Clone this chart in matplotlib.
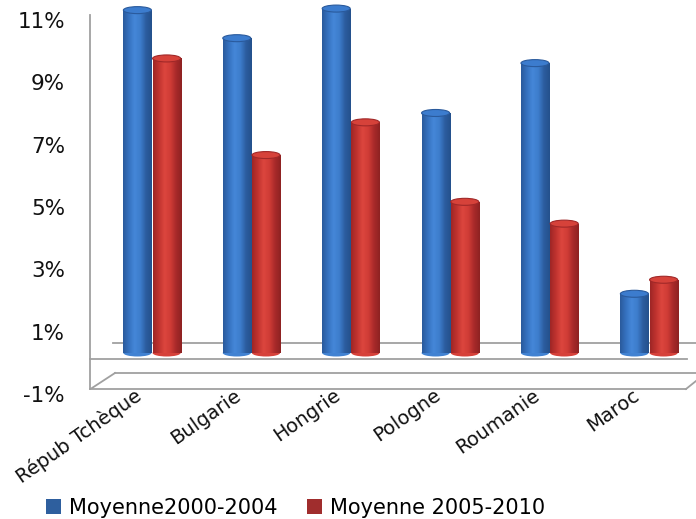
import numpy as np
import matplotlib
matplotlib.use("Agg")
import matplotlib.pyplot as plt
from matplotlib.patches import Ellipse, Patch
from matplotlib.lines import Line2D
from matplotlib.colors import LinearSegmentedColormap

categories = ["Répub Tchèque", "Bulgarie", "Hongrie", "Pologne", "Roumanie", "Maroc"]
series_names = ["Moyenne2000-2004", "Moyenne 2005-2010"]
s1 = [11.0, 10.1, 11.05, 7.7, 9.3, 1.9]
s2 = [9.45, 6.35, 7.4, 4.85, 4.15, 2.35]
yticks = [-1, 1, 3, 5, 7, 9, 11]
ytick_labels = ["-1%", "1%", "3%", "5%", "7%", "9%", "11%"]

W, H = 696, 519
fig = plt.figure(figsize=(W / 100, H / 100), dpi=100)
fig.patch.set_facecolor("white")
plt.rcParams['font.family'] = ['DejaVu Sans']


def fx(x):
    return x / W


def fy(y):
    return 1 - y / H


# main axis (ticks)
ax = fig.add_axes([fx(90), fy(394), fx(600), (394 - 20) / H])
ax.set_ylim(-1, 11)
ax.set_xlim(0, 1)
ax.set_facecolor("none")
for s in ax.spines.values():
    s.set_visible(False)
ax.set_xticks([])
ax.set_yticks(yticks)
ax.set_yticklabels(ytick_labels, fontsize=15.5, color="#111111")
ax.tick_params(axis="y", length=0, pad=18)

# decorative frame / floor lines (pixel coordinates)
gc = "#a0a0a0"
frame = [
    [(90, 15), (90, 389)],
    [(113, 343), (696, 343)],
    [(90, 359), (687, 359)],
    [(115, 373), (696, 373)],
    [(92, 388), (115, 373)],
    [(90, 389), (686, 389)],
    [(686, 389), (696, 381)],
]
for seg in frame:
    xs = [fx(p[0]) for p in seg]
    ys = [fy(p[1]) for p in seg]
    fig.add_artist(Line2D(xs, ys, color=gc, lw=1.3, zorder=-1))

# bar axes (front plane, shifted)
px_per_unit = 31.17
base_px = 353
bax = fig.add_axes([fx(102.3), fy(base_px + px_per_unit), 596.4 / W, 12 * px_per_unit / H])
bax.set_facecolor("none")
for s in bax.spines.values():
    s.set_visible(False)
bax.set_xticks([])
bax.set_yticks([])

x = np.arange(len(categories))
bw = 0.282
off = 0.147

blue_cmap = LinearSegmentedColormap.from_list(
    "b", ["#2a5a9c", "#3572c0", "#4587d8", "#3d7dcc", "#2c5d9f", "#24518c"])
red_cmap = LinearSegmentedColormap.from_list(
    "r", ["#9e2626", "#c0332f", "#dc463e", "#d03c36", "#a92a2a", "#8e2222"])
grad = np.linspace(0, 1, 64).reshape(1, -1)

eh = 7 / px_per_unit

for vals, dx, cmap, topc, edgec in [
    (s1, -off, blue_cmap, "#3c7cce", "#2a5a9c"),
    (s2, off, red_cmap, "#d6423a", "#a02828"),
]:
    bars = bax.bar(x + dx, vals, width=bw, color="none", edgecolor="none", zorder=2)
    for rect, v in zip(bars, vals):
        x0 = rect.get_x()
        xc = x0 + bw / 2
        bottom = Ellipse((xc, 0), bw, eh, facecolor=cmap(0.5), edgecolor="none",
                         zorder=2, clip_on=False)
        bax.add_patch(bottom)
        img = bax.imshow(grad, cmap=cmap, extent=(x0, x0 + bw, 0, v), aspect="auto",
                         interpolation="bilinear", zorder=3)
        img.set_clip_path(rect)
        top = Ellipse((xc, v), bw, eh, facecolor=topc, edgecolor=edgec, lw=0.8,
                      zorder=4, clip_on=False)
        bax.add_patch(top)

bax.set_xlim(-0.5, 5.5)
bax.set_ylim(-1, 11)

# category labels
for i, lab in enumerate(categories):
    bax.text(i - 0.12, -1.3, lab, rotation=35, ha="right", va="center",
             rotation_mode="anchor", fontsize=14, color="#111111", clip_on=False)

handles = [Patch(facecolor="#2e5f9e", edgecolor="none"),
           Patch(facecolor="#a02d2d", edgecolor="none")]
fig.legend(handles, series_names, loc="center left", bbox_to_anchor=(fx(46), fy(508)),
           ncol=2, frameon=False, fontsize=15, handlelength=0.72, handleheight=0.72,
           handletextpad=0.4, columnspacing=1.4, borderaxespad=0, borderpad=0)

fig.savefig("out.png", dpi=100, facecolor="white")
